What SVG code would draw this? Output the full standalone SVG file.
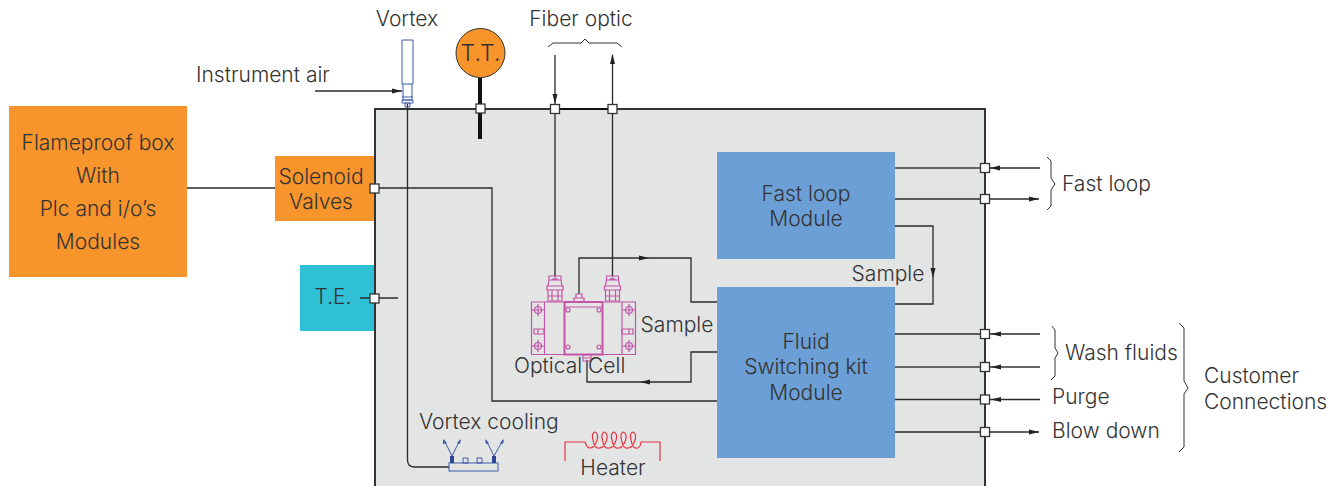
<svg xmlns="http://www.w3.org/2000/svg" width="1342" height="486" viewBox="0 0 1342 486">
<style>
text{font-family:Inter,"Liberation Sans",Arial,sans-serif;font-size:21px;font-weight:300;fill:#333;text-anchor:middle}
.s{text-anchor:start}
.c{fill:none;stroke:#2a2a2a;stroke-width:1.3}
.h{fill:none;stroke:#666;stroke-width:2}
.b{fill:none;stroke:#333;stroke-width:1}
.p{fill:#fff;stroke:#333;stroke-width:1.3}
.m{fill:none;stroke:#c455a6;stroke-width:1.2}
.m2{fill:none;stroke:#c455a6;stroke-width:2}
.v{fill:none;stroke:#3f5aa8;stroke-width:1}
.a{fill:#222}
</style>
<defs>
<path id="ah" class="a" d="M0 0L-10 -2.500V2.500Z"/>
<g id="cross"><circle r="3.500" class="m"/><path class="m" d="M-6 0H6M0 -6V6"/></g>
<g id="gland"><path class="m" d="M-6 -26H6V-22L7 -16H-7L-6 -22ZM-6 -22H6M-3 -22Q0 -25 3 -22M-8 -16H8V-12H-8ZM-7 -12H7V-1H-7ZM-7 -6H7M-3 -12V-1M3 -12V-1"/></g>
</defs>
<rect x="375" y="109" width="610" height="390" fill="#e3e5e5" stroke="#333" stroke-width="2"/>
<g id="flameproof-box"><rect x="9" y="106" width="178" height="171" fill="#f8942c"/><text x="98" y="150">Flameproof box</text><text x="98" y="183">With</text><text x="98" y="216">Plc and i/o’s</text><text x="98" y="249">Modules</text></g>
<g id="solenoid-valves"><rect x="275" y="156" width="99" height="65" fill="#f8942c"/><text x="321" y="184">Solenoid</text><text x="321" y="209">Valves</text></g>
<g id="te"><rect x="300" y="265" width="74" height="66" fill="#2fc0d5"/><text x="333" y="304">T.E.</text></g>
<g id="fast-loop-module"><rect x="717" y="152" width="178" height="107" fill="#6b9fd6"/><text x="806" y="201">Fast loop</text><text x="806" y="226">Module</text></g>
<g id="fluid-switching-module"><rect x="717" y="287" width="178" height="171" fill="#6b9fd6"/><text x="806" y="349">Fluid</text><text x="806" y="374">Switching kit</text><text x="806" y="400">Module</text></g>
<g id="connectors">
<path class="c" d="M187 188H275M374 188H492V401H717"/>
<path class="c" d="M360 298H398"/>
<path class="c" d="M315 91H402"/><use href="#ah" transform="translate(402 91)"/>
<path class="c" d="M407.500 104V460Q407.500 467 415 467H449"/>
<path d="M480 78V109M480 113V139" stroke="#111" stroke-width="4" fill="none"/>
<path class="c" d="M555 55V109"/><use href="#ah" transform="translate(555 104) rotate(90)"/>
<path class="c" d="M555 109V277M612.500 277V109"/>
<path d="M555 109H612.500" stroke="#111" stroke-width="2"/>
<path class="c" d="M612.500 109V55"/><use href="#ah" transform="translate(612.500 54) rotate(-90)"/>
<path class="c" d="M579 294V258H691V302H717"/><use href="#ah" transform="translate(649 258)" />
<path class="c" d="M717 352H691V382H587V360"/><use href="#ah" transform="translate(640 382) rotate(180)" />
<path class="h" d="M895 168H985"/><path class="c" d="M985 168H1040"/><use href="#ah" transform="translate(990 168) rotate(180)"/>
<path class="c" d="M895 199H1039"/><use href="#ah" transform="translate(1039 199)"/>
<path class="c" d="M895 226H933V304H895"/><use href="#ah" transform="translate(933 278) rotate(90)"/>
<path class="c" d="M895 334H1040"/><use href="#ah" transform="translate(991 334) rotate(180)"/>
<path class="h" d="M895 367H1040"/><use href="#ah" transform="translate(991 367) rotate(180)"/>
<path class="c" d="M895 399.500H1040"/><use href="#ah" transform="translate(991 399.500) rotate(180)"/>
<path class="c" d="M895 432H1039"/><use href="#ah" transform="translate(1039 432)"/>
<path class="b" d="M548 47L553 43H581L585 39L589 43H617L622 47"/>
<path class="b" d="M1047 157L1051 161V178L1055 184L1051 190V206L1047 210"/>
<path class="b" d="M1052 326L1055 330V348L1058 353L1055 358V376L1051 380"/>
<path class="b" d="M1179 323L1184 328V381L1188 388L1184 394V447L1179 452"/>
</g>
<g id="ports"><rect class="p" x="370" y="184" width="9" height="9"/><rect class="p" x="370" y="294" width="9" height="9"/><rect class="p" x="476" y="104" width="9" height="9"/><rect class="p" x="550.500" y="104.500" width="9" height="9"/><rect class="p" x="608" y="104.500" width="9" height="9"/><rect class="p" x="980.500" y="163.500" width="9" height="9"/><rect class="p" x="980.500" y="194.500" width="9" height="9"/><rect class="p" x="980.500" y="329.500" width="9" height="9"/><rect class="p" x="980.500" y="362.500" width="9" height="9"/><rect class="p" x="980.500" y="395" width="9" height="9"/><rect class="p" x="980.500" y="427.500" width="9" height="9"/></g>
<g id="tt"><circle cx="480.500" cy="53" r="24.500" fill="#f8942c" stroke="#333"/><text x="480.500" y="61" style="font-size:23px">T.T.</text></g>
<g id="vortex"><path class="v" d="M402 40H413V84H402ZM403 84V100H412V84M402 97H413M402 100H413V103H402ZM405 103H410V107H405Z"/></g>
<g id="optical-cell">
<path class="m" d="M531.500 302H635.500V354.500H531.500ZM544.500 302V354.500M622 302V354.500"/>
<rect class="m2" x="564.500" y="302" width="38" height="52.500"/>
<path class="m" d="M564.500 307H602.500"/>
<circle class="m" cx="568" cy="310" r="2"/><circle class="m" cx="599" cy="310" r="2"/><circle class="m" cx="568" cy="347" r="2"/><circle class="m" cx="599" cy="347" r="2"/>
<use href="#cross" transform="translate(538 310)"/><use href="#cross" transform="translate(538 346)"/><use href="#cross" transform="translate(629 310)"/><use href="#cross" transform="translate(629 346)"/>
<path class="m" d="M534 329H544V334H534ZM538 329V334M622 329H633V334H622ZM629 329V334"/>
<use href="#gland" transform="translate(555 302)"/><use href="#gland" transform="translate(612.500 302)"/>
<path class="m" d="M574 302V298H584V302M576 298V294H582V298M583 355H591V361H583ZM583 358H591"/>
</g>
<g id="vortex-cooling"><rect class="v" x="449" y="463" width="49" height="8"/><path class="v" d="M463 458H468V463H463ZM477 458H482V463H477Z"/>
<path d="M452 456V463M494 456V463" stroke="#2f4590" stroke-width="4"/>
<path class="v" d="M452 456L444 440M452 456L460 440M494 456L486 440M494 456L503 440"/>
<path fill="#3f5aa8" d="M443 439L447 443L443 444ZM461 439L460 444L457 443ZM485 439L489 443L486 444ZM504 439L503 444L500 443Z"/></g>
<g id="heater"><path d="M565 461V442H585Q587 448 590 448c5 0 9 -10 7 -14c-2 -4 -6 -1 -4 6c1 6 3 9 6.500 8c5 0 9 -10 7 -14c-2 -4 -6 -1 -4 6c1 6 3 9 6.500 8c5 0 9 -10 7 -14c-2 -4 -6 -1 -4 6c1 6 3 9 6.500 8c5 0 9 -10 7 -14c-2 -4 -6 -1 -4 6c1 6 3 9 6.500 8c5 0 9 -10 7 -14c-2 -4 -6 -1 -4 6c1 6 3 9 6.500 8Q640 448 641 442H660V461" fill="none" stroke="#e8333f" stroke-width="1.200"/></g>
<g id="labels">
<text class="s" x="196" y="82">Instrument air</text><text x="407" y="26">Vortex</text><text x="581" y="26">Fiber optic</text>
<text x="888" y="281">Sample</text><text x="677" y="332">Sample</text><text class="s" x="514" y="373">Optical Cell</text>
<text class="s" x="419" y="429">Vortex cooling</text><text x="613" y="475">Heater</text>
<text class="s" x="1062" y="191">Fast loop</text><text class="s" x="1065" y="360">Wash fluids</text><text class="s" x="1052" y="404">Purge</text><text class="s" x="1052" y="438">Blow down</text><text class="s" x="1204" y="383">Customer</text><text class="s" x="1204" y="409">Connections</text>
</g>
</svg>
